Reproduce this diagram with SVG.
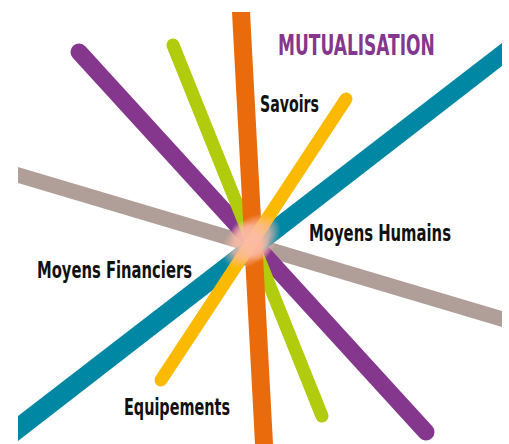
<svg xmlns="http://www.w3.org/2000/svg" width="509" height="444" viewBox="0 0 509 444">
  <style>
    .lbl { font-family: "Liberation Sans Narrow", "DejaVu Sans Condensed", "Liberation Sans", sans-serif; font-weight: bold; fill: #111; font-size: 23px; }
    .title { font-family: "Liberation Sans Narrow", "DejaVu Sans Condensed", "Liberation Sans", sans-serif; font-weight: bold; fill: #84378c; font-size: 29px; }
    .bar { fill: none; stroke-linecap: round; }
  </style>
  <defs>
    <radialGradient id="glow" cx="0.5" cy="0.5" r="0.5">
      <stop offset="0" stop-color="#fbbca8" stop-opacity="1"/>
      <stop offset="0.6" stop-color="#fbbca8" stop-opacity="0.85"/>
      <stop offset="0.85" stop-color="#fbbca8" stop-opacity="0.35"/>
      <stop offset="1" stop-color="#fbbca8" stop-opacity="0"/>
    </radialGradient>
    <clipPath id="barsclip">
      <polygon points="18,167 18,183 502,327 502,311"/>
      <polygon points="502,43 502,66 18,441 18,416"/>
      <polygon points="232,12 250,12 273,444 255,444"/>
      <polygon points="73,58 85,46 432,426 420,438"/>
      <polygon points="167,47 179,43 328,414 316,418"/>
      <polygon points="340,95 352,103 167,384 155,376"/>
    </clipPath>
  </defs>
  <rect width="509" height="444" fill="#ffffff"/>
  <g id="bars">
    <polygon id="bar-gray" points="18,167 18,183 502,327 502,311" fill="#b09f98"/>
    <line id="bar-purple" class="bar" x1="79" y1="52" x2="426" y2="432" stroke="#84378c" stroke-width="17"/>
    <polygon id="bar-teal" points="502,43 502,66 18,441 18,416" fill="#0087a3"/>
    <line id="bar-green" class="bar" x1="173" y1="45" x2="322" y2="416" stroke="#b1cb0d" stroke-width="13"/>
    <polygon id="bar-orange" points="232,12 250,12 273,444 255,444" fill="#ea6b0b"/>
    <line id="bar-yellow" class="bar" x1="346" y1="99" x2="161" y2="380" stroke="#fbb900" stroke-width="13"/>
    <g clip-path="url(#barsclip)">
      <ellipse id="center-glow" cx="251" cy="241" rx="34" ry="22" transform="rotate(-40 251 241)" fill="url(#glow)" opacity="0.9"/>
      <ellipse cx="251" cy="241" rx="24" ry="16" transform="rotate(45 251 241)" fill="url(#glow)" opacity="0.7"/>
    </g>
  </g>
  <g id="title"><text class="title" transform="translate(278 55) scale(0.8 1)" x="0" y="0" textLength="196" lengthAdjust="spacingAndGlyphs">MUTUALISATION</text></g>
  <g id="node-savoirs"><text class="lbl" x="260" y="112" textLength="59" lengthAdjust="spacingAndGlyphs">Savoirs</text></g>
  <g id="node-humains"><text class="lbl" x="309" y="241" textLength="142" lengthAdjust="spacingAndGlyphs">Moyens Humains</text></g>
  <g id="node-financiers"><text class="lbl" x="37" y="278" textLength="155" lengthAdjust="spacingAndGlyphs">Moyens Financiers</text></g>
  <g id="node-equipements"><text class="lbl" x="124" y="415" textLength="106" lengthAdjust="spacingAndGlyphs">Equipements</text></g>
</svg>
